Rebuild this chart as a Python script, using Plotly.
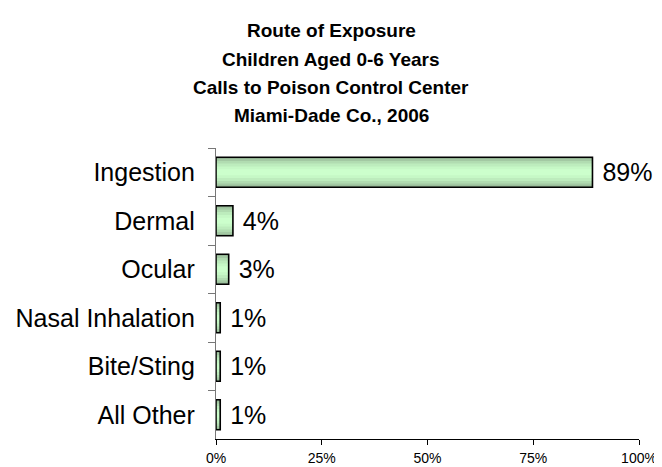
import plotly.graph_objects as go

categories = ["Ingestion", "Dermal", "Ocular", "Nasal Inhalation", "Bite/Sting", "All Other"]
values = [89, 4, 3, 1, 1, 1]
labels = ["89%", "4%", "3%", "1%", "1%", "1%"]
title_lines = ["Route of Exposure", "Children Aged 0-6 Years",
               "Calls to Poison Control Center", "Miami-Dade Co., 2006"]
x_ticks = [0, 25, 50, 75, 100]
x_tick_labels = ["0%", "25%", "50%", "75%", "100%"]

FONT = "Liberation Sans, Arial, Helvetica, sans-serif"

# page body has an 8px margin, so the figure is drawn 8px smaller and offset
W, H = 654, 459
L, R, T, B = 208, 23, 140, 28
PW, PH = W - L - R, H - T - B

fig = go.Figure()

# gradient-like fill: layered bars of decreasing thickness, lighter toward centre
layers = [
    (0.62, "#93b393"),
    (0.55, "#a3c9a3"),
    (0.46, "#b1dcb1"),
    (0.36, "#bdecbd"),
    (0.24, "#c6f8c6"),
    (0.12, "#ccffcc"),
]
for w, c in layers:
    fig.add_trace(go.Bar(
        y=categories, x=values, orientation="h", width=w,
        marker=dict(color=c, line=dict(width=0)),
        hoverinfo="skip", showlegend=False,
    ))

# outline + labels
fig.add_trace(go.Bar(
    y=categories, x=values, orientation="h", width=0.62,
    marker=dict(color="rgba(0,0,0,0)", line=dict(color="black", width=1.6)),
    text=labels, texttemplate=" %{text}", textposition="outside", cliponaxis=False,
    textfont=dict(family=FONT, size=25, color="black"),
    showlegend=False,
))

title_y = [22, 51, 79, 108]
for line, ty in zip(title_lines, title_y):
    fig.add_annotation(
        text=f"<b>{line}</b>", xref="paper", yref="paper",
        x=(323 - L) / PW, y=1 + (T - ty) / PH,
        xanchor="center", yanchor="middle", showarrow=False,
        font=dict(family=FONT, size=19, color="black"),
    )

fig.update_layout(
    width=W, height=H,
    margin=dict(l=L, r=R, t=T, b=B),
    paper_bgcolor="white", plot_bgcolor="white",
    barmode="overlay",
    font=dict(family=FONT, color="black"),
    xaxis=dict(
        range=[0, 100], tickvals=x_ticks, ticktext=x_tick_labels,
        showgrid=False, zeroline=False, showline=True, linecolor="black",
        linewidth=1.3, ticks="outside", ticklen=5, tickcolor="black",
        tickfont=dict(family=FONT, size=14, color="black"),
        ticklabelstandoff=1, automargin=False,
    ),
    yaxis=dict(
        categoryorder="array", categoryarray=categories, autorange="reversed",
        showgrid=False, zeroline=False, showline=True, linecolor="#777777",
        linewidth=1.3, ticks="outside", ticklen=7, tickcolor="#777777",
        tickson="boundaries",
        tickfont=dict(family=FONT, size=25, color="black"),
        ticklabelstandoff=15, automargin=False,
    ),
)

fig.write_html("out.html")
